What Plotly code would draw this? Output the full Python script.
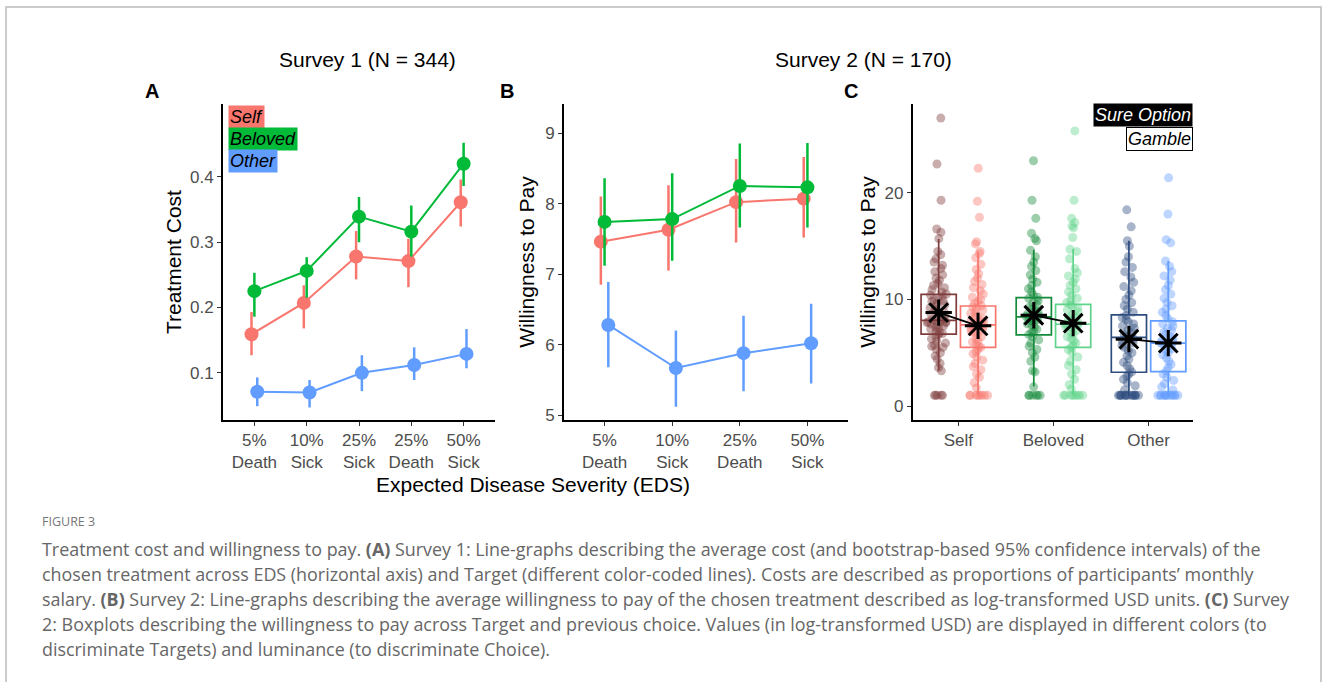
import plotly.graph_objects as go

W, H = 1330, 682
FONT = "Liberation Sans, Arial, sans-serif"
CAPFONT = "Open Sans, sans-serif"

# ---------------- Data ----------------
targets = ["Self", "Beloved", "Other"]
target_colors = ["#F8766D", "#00BA38", "#619CFF"]

# Panel A (Survey 1): treatment cost
eds_a = ["5%<br>Death", "10%<br>Sick", "25%<br>Sick", "25%<br>Death", "50%<br>Sick"]
cost_mean = {
    "Self":    [0.159, 0.207, 0.278, 0.271, 0.361],
    "Beloved": [0.225, 0.256, 0.339, 0.316, 0.420],
    "Other":   [0.071, 0.070, 0.100, 0.112, 0.129],
}
cost_hi = {
    "Self":    [0.193, 0.234, 0.317, 0.305, 0.396],
    "Beloved": [0.253, 0.277, 0.369, 0.356, 0.452],
    "Other":   [0.093, 0.089, 0.127, 0.139, 0.167],
}
cost_lo = {
    "Self":    [0.127, 0.168, 0.243, 0.231, 0.324],
    "Beloved": [0.186, 0.215, 0.300, 0.278, 0.386],
    "Other":   [0.049, 0.047, 0.072, 0.089, 0.107],
}

# Panel B (Survey 2): willingness to pay
eds_b = ["5%<br>Death", "10%<br>Sick", "25%<br>Death", "50%<br>Sick"]
wtp_mean = {
    "Self":    [7.46, 7.63, 8.02, 8.07],
    "Beloved": [7.74, 7.78, 8.25, 8.23],
    "Other":   [6.28, 5.67, 5.88, 6.02],
}
wtp_hi = {
    "Self":    [8.10, 8.26, 8.63, 8.66],
    "Beloved": [8.36, 8.43, 8.85, 8.86],
    "Other":   [6.89, 6.20, 6.41, 6.58],
}
wtp_lo = {
    "Self":    [6.85, 7.05, 7.45, 7.52],
    "Beloved": [7.12, 7.19, 7.66, 7.66],
    "Other":   [5.68, 5.12, 5.34, 5.45],
}

# Panel C: boxplots by target and choice
choices = ["Sure Option", "Gamble"]
box_colors = {
    ("Self", "Sure Option"): "#7E3C3C", ("Self", "Gamble"): "#F8766D",
    ("Beloved", "Sure Option"): "#138B3A", ("Beloved", "Gamble"): "#5FD38A",
    ("Other", "Sure Option"): "#2E4C7E", ("Other", "Gamble"): "#619CFF",
}
box_q1 = {("Self", "Sure Option"): 6.74, ("Self", "Gamble"): 5.50,
          ("Beloved", "Sure Option"): 6.68, ("Beloved", "Gamble"): 5.50,
          ("Other", "Sure Option"): 3.17, ("Other", "Gamble"): 3.23}
box_med = {("Self", "Sure Option"): 8.04, ("Self", "Gamble"): 7.61,
           ("Beloved", "Sure Option"): 8.36, ("Beloved", "Gamble"): 7.67,
           ("Other", "Sure Option"): 6.43, ("Other", "Gamble"): 5.90}
box_q3 = {("Self", "Sure Option"): 10.47, ("Self", "Gamble"): 9.38,
          ("Beloved", "Sure Option"): 10.16, ("Beloved", "Gamble"): 9.54,
          ("Other", "Sure Option"): 8.54, ("Other", "Gamble"): 7.98}
box_lo = {("Self", "Sure Option"): 3.33, ("Self", "Gamble"): 1.0,
          ("Beloved", "Sure Option"): 1.83, ("Beloved", "Gamble"): 1.0,
          ("Other", "Sure Option"): 1.0, ("Other", "Gamble"): 1.0}
box_hi = {("Self", "Sure Option"): 15.66, ("Self", "Gamble"): 14.5,
          ("Beloved", "Sure Option"): 14.66, ("Beloved", "Gamble"): 14.72,
          ("Other", "Sure Option"): 15.5, ("Other", "Gamble"): 13.6}
box_mean = {("Self", "Sure Option"): 8.76, ("Self", "Gamble"): 7.52,
            ("Beloved", "Sure Option"): 8.51, ("Beloved", "Gamble"): 7.77,
            ("Other", "Sure Option"): 6.27, ("Other", "Gamble"): 5.90}

wtp_self_sure = [27.0, 22.7, 19.3, 16.6, 16.3,
                 15.7, 14.5, 14.2, 13.8, 13.5, 13.2, 12.9, 12.6, 12.3, 12.0, 11.8, 11.5, 11.3, 11.1, 10.9, 10.7, 10.5,
                 10.4, 10.3, 10.1, 10.0, 9.9, 9.8, 9.6, 9.5, 9.3, 9.2, 9.0, 8.9, 8.8, 8.6, 8.5, 8.3, 8.2, 8.1, 8.0, 8.0,
                 7.9, 7.9, 7.8, 7.8, 7.7, 7.6, 7.5, 7.4, 7.3, 7.2, 7.0, 6.9, 6.8, 6.7,
                 6.5, 6.3, 6.1, 5.9, 5.7, 5.6, 5.5, 5.3, 5.0, 4.7, 4.4, 4.0, 3.6, 3.3,
                 1.0, 1.0, 1.0, 1.0, 1.0]
wtp_self_gamble = [22.3, 19.2, 17.7,
                   15.4, 15.2, 14.5, 14.3, 13.9, 13.3, 12.8, 12.4, 12.0, 11.7, 11.4, 11.1, 10.8, 10.5, 10.2, 10.0, 9.8, 9.6, 9.4,
                   9.3, 9.2, 9.0, 8.8, 8.7, 8.5, 8.4, 8.2, 8.0, 7.9, 7.8, 7.7, 7.6, 7.6, 7.5, 7.4, 7.3, 7.2, 7.0, 6.9,
                   6.7, 6.5, 6.3, 6.1, 6.0, 5.8, 5.6, 5.5,
                   5.3, 5.1, 4.9, 4.6, 4.3, 4.0, 3.7, 3.4, 3.0, 2.7, 2.2, 1.7,
                   1.0, 1.0, 1.0, 1.0, 1.0, 1.0, 1.0, 1.0]
wtp_beloved_sure = [23.0, 19.3, 17.6, 16.2,
                    15.7, 15.5, 14.6, 14.0, 13.5, 13.1, 12.7, 12.3, 11.9, 11.6, 11.3, 11.0, 10.7, 10.4, 10.2,
                    10.1, 9.9, 9.7, 9.5, 9.3, 9.1, 9.0, 8.8, 8.6, 8.5, 8.4, 8.3, 8.2, 8.1, 8.0, 7.9, 7.7, 7.6,
                    7.4, 7.2, 7.0, 6.9, 6.7,
                    6.5, 6.2, 5.9, 5.6, 5.3, 5.0, 4.6, 4.2, 3.3, 3.2, 1.8,
                    1.0, 1.0, 1.0, 1.0, 1.0, 1.0]
wtp_beloved_gamble = [25.8, 19.3, 17.6, 17.2, 16.9, 16.7, 15.8,
                      14.7, 14.5, 13.8, 12.9, 12.5, 12.2, 11.9, 11.6, 11.3, 11.0, 10.7, 10.4, 10.1, 9.9, 9.7,
                      9.5, 9.4, 9.2, 9.0, 8.8, 8.6, 8.4, 8.2, 8.0, 7.9, 7.8, 7.7, 7.6, 7.5, 7.4, 7.3, 7.1, 6.9,
                      6.7, 6.5, 6.3, 6.1, 5.9, 5.7, 5.5,
                      5.3, 5.0, 4.6, 4.2, 3.8, 3.4, 3.0, 2.5, 2.0, 1.6,
                      1.0, 1.0, 1.0, 1.0, 1.0, 1.0, 1.0, 1.0]
wtp_other_sure = [18.4, 16.8,
                  15.5, 15.0, 14.0, 13.5, 13.0, 12.6, 12.1, 11.6, 11.2, 10.8, 10.4, 10.0, 9.7, 9.4, 9.1, 8.8,
                  8.5, 8.3, 8.1, 7.9, 7.7, 7.5, 7.3, 7.1, 6.9, 6.7, 6.5, 6.4, 6.3, 6.1, 5.9, 5.7, 5.5, 5.2,
                  5.0, 4.7, 4.4, 4.1, 3.8, 3.5, 3.2,
                  3.0, 2.8, 2.5, 2.2, 1.9, 1.5,
                  1.0, 1.0, 1.0, 1.0, 1.0, 1.0, 1.0, 1.0, 1.0, 1.0, 1.0, 1.0, 1.0, 1.0]
wtp_other_gamble = [21.4, 18.0, 15.6, 15.3,
                    13.6, 13.1, 12.6, 12.2, 11.8, 11.3, 10.9, 10.5, 10.1, 9.7, 9.4, 9.1, 8.8, 8.5, 8.2,
                    7.9, 7.7, 7.5, 7.3, 7.1, 6.9, 6.7, 6.5, 6.3, 6.1, 6.0, 5.9, 5.8, 5.6, 5.4, 5.2, 5.0,
                    4.8, 4.5, 4.2, 3.9, 3.6, 3.3,
                    3.0, 2.7, 2.4, 2.1, 1.8, 1.5,
                    1.0, 1.0, 1.0, 1.0, 1.0, 1.0, 1.0, 1.0, 1.0, 1.0, 1.0, 1.0]
box_values = {
    ("Self", "Sure Option"): wtp_self_sure, ("Self", "Gamble"): wtp_self_gamble,
    ("Beloved", "Sure Option"): wtp_beloved_sure, ("Beloved", "Gamble"): wtp_beloved_gamble,
    ("Other", "Sure Option"): wtp_other_sure, ("Other", "Gamble"): wtp_other_gamble,
}

# ---------------- Helpers ----------------
def px_x(a, b):
    return [a / W, b / W]

def px_y(top, bottom):
    return [1 - bottom / H, 1 - top / H]

def rgba(hexc, a):
    h = hexc.lstrip("#")
    return "rgba(%d,%d,%d,%.2f)" % (int(h[0:2], 16), int(h[2:4], 16), int(h[4:6], 16), a)

fig = go.Figure()

dodge = {"Self": -0.055, "Beloved": 0.0, "Other": 0.055}

# Panel A
for t, c in zip(targets, target_colors):
    xs = [i + dodge[t] for i in range(len(eds_a))]
    m = cost_mean[t]
    fig.add_trace(go.Scatter(
        x=xs, y=m, mode="lines+markers", xaxis="x", yaxis="y",
        line=dict(color=c, width=2), marker=dict(color=c, size=14),
        error_y=dict(type="data", symmetric=False,
                     array=[h - v for h, v in zip(cost_hi[t], m)],
                     arrayminus=[v - l for l, v in zip(cost_lo[t], m)],
                     color=c, thickness=2.5, width=0),
        showlegend=False, name=t))

# Panel B
for t, c in zip(targets, target_colors):
    xs = [i + dodge[t] for i in range(len(eds_b))]
    m = wtp_mean[t]
    fig.add_trace(go.Scatter(
        x=xs, y=m, mode="lines+markers", xaxis="x2", yaxis="y2",
        line=dict(color=c, width=2), marker=dict(color=c, size=14),
        error_y=dict(type="data", symmetric=False,
                     array=[h - v for h, v in zip(wtp_hi[t], m)],
                     arrayminus=[v - l for l, v in zip(wtp_lo[t], m)],
                     color=c, thickness=2.5, width=0),
        showlegend=False, name=t))

# Panel C
choice_off = {"Sure Option": -0.207, "Gamble": 0.207}
for i, t in enumerate(targets):
    for ch in choices:
        k = (t, ch)
        pos = i + choice_off[ch]
        col = box_colors[k]
        vals = box_values[k]
        # jittered points
        fig.add_trace(go.Box(
            x=[pos] * len(vals), y=vals, xaxis="x3", yaxis="y3",
            boxpoints="all", jitter=1, pointpos=0, width=0.26,
            fillcolor="rgba(0,0,0,0)", line=dict(color="rgba(0,0,0,0)", width=0),
            marker=dict(color=rgba(col, 0.42), size=9, line=dict(width=0)),
            showlegend=False, hoverinfo="y"))
        # box from summary stats
        fig.add_trace(go.Box(
            x=[pos], q1=[box_q1[k]], median=[box_med[k]], q3=[box_q3[k]],
            lowerfence=[box_lo[k]], upperfence=[box_hi[k]],
            xaxis="x3", yaxis="y3", boxpoints=False, width=0.37,
            whiskerwidth=0, fillcolor="rgba(0,0,0,0)",
            line=dict(color=col, width=1.7), showlegend=False))
    fig.add_trace(go.Scatter(
        x=[i + choice_off[ch] for ch in choices],
        y=[box_mean[(t, ch)] for ch in choices],
        mode="lines+markers", xaxis="x3", yaxis="y3",
        line=dict(color="black", width=1.8),
        marker=dict(symbol="asterisk-open", size=22, color="black",
                    line=dict(color="black", width=3)),
        showlegend=False))

axis_common = dict(showline=True, linecolor="black", linewidth=1.8,
                   ticks="outside", ticklen=4, tickwidth=1.2, tickcolor="#333333",
                   tickfont=dict(size=17, color="#4D4D4D", family=FONT),
                   showgrid=False, zeroline=False)
title_font = dict(size=21, color="black", family=FONT)

fig.update_layout(
    width=W, height=H, margin=dict(l=0, r=0, t=0, b=0),
    paper_bgcolor="white", plot_bgcolor="white", showlegend=False,
    font=dict(family=FONT),
    xaxis=dict(axis_common, domain=px_x(223, 495), range=[-0.6, 4.6],
               tickmode="array", tickvals=list(range(len(eds_a))), ticktext=eds_a,
               anchor="y"),
    yaxis=dict(axis_common, domain=px_y(105, 423), range=[0.028, 0.511],
               tickvals=[0.1, 0.2, 0.3, 0.4], anchor="x",
               title=dict(text="Treatment Cost", font=title_font, standoff=3)),
    xaxis2=dict(axis_common, domain=px_x(564, 848), range=[-0.6, 3.6],
                tickmode="array", tickvals=list(range(len(eds_b))), ticktext=eds_b,
                anchor="y2"),
    yaxis2=dict(axis_common, domain=px_y(105, 423), range=[4.934, 9.408],
                tickvals=[5, 6, 7, 8, 9], anchor="x2",
                title=dict(text="Willingness to Pay", font=title_font, standoff=5)),
    xaxis3=dict(axis_common, domain=px_x(912.7, 1193.3), range=[-0.48, 2.47],
                tickmode="array", tickvals=list(range(len(targets))), ticktext=targets,
                anchor="y3"),
    yaxis3=dict(axis_common, domain=px_y(105, 423), range=[-1.3, 28.3],
                tickvals=[0, 10, 20], anchor="x3",
                title=dict(text="Willingness to Pay", font=title_font, standoff=3)),
)

def text_ann(text, x, y, size, color="black", family=FONT, xanchor="center", **kw):
    return dict(text=text, x=x / W, y=1 - y / H, xref="paper", yref="paper",
                xanchor=xanchor, yanchor="middle", showarrow=False,
                font=dict(size=size, color=color, family=family), **kw)

ann = []
# Survey titles
ann.append(text_ann("Survey 1 (N = 344)", 367, 60, 21))
ann.append(text_ann("Survey 2 (N = 170)", 863, 60, 21))
# Panel letters
for letter, xc in [("A", 152), ("B", 507), ("C", 851)]:
    ann.append(text_ann("<b>%s</b>" % letter, xc, 92, 20))
# Shared x title
ann.append(text_ann("Expected Disease Severity (EDS)", 533, 488, 21))
# Panel A target legend
for j, (t, c) in enumerate(zip(targets, target_colors)):
    ann.append(dict(text="<i>%s</i>" % t, x=228 / W, y=1 - (106 + 22 * j) / H,
                    xref="paper", yref="paper", xanchor="left", yanchor="top",
                    showarrow=False, bgcolor=c, borderpad=1,
                    font=dict(size=18, color="black", family=FONT)))
# Panel C choice legend
ann.append(dict(text="<i>Sure Option</i>", x=1193 / W, y=1 - 104 / H, xref="paper", yref="paper",
                xanchor="right", yanchor="top", showarrow=False, bgcolor="black", borderpad=1,
                font=dict(size=18, color="white", family=FONT)))
ann.append(dict(text="<i>Gamble</i>", x=1193 / W, y=1 - 128 / H, xref="paper", yref="paper",
                xanchor="right", yanchor="top", showarrow=False, bgcolor="white",
                bordercolor="black", borderwidth=1, borderpad=1,
                font=dict(size=18, color="black", family=FONT)))

# Caption
ann.append(text_ann("FIGURE 3", 40, 525, 12.5, color="#777777", family=CAPFONT, xanchor="left"))
caption = [
    "Treatment cost and willingness to pay. <b>(A)</b> Survey 1: Line-graphs describing the average cost (and bootstrap-based 95% confidence intervals) of the",
    "chosen treatment across EDS (horizontal axis) and Target (different color-coded lines). Costs are described as proportions of participants\u2019 monthly",
    "salary. <b>(B)</b> Survey 2: Line-graphs describing the average willingness to pay of the chosen treatment described as log-transformed USD units. <b>(C)</b> Survey",
    "2: Boxplots describing the willingness to pay across Target and previous choice. Values (in log-transformed USD) are displayed in different colors (to",
    "discriminate Targets) and luminance (to discriminate Choice).",
]
for j, line in enumerate(caption):
    ann.append(text_ann(line, 40, 553 + 25.3 * j, 17.9, color="#666666", family=CAPFONT, xanchor="left"))

fig.update_layout(annotations=ann)

# Outer frame
fig.add_shape(type="rect", xref="paper", yref="paper",
              x0=6 / W, x1=1321 / W, y0=-0.05, y1=1 - 7 / H,
              line=dict(color="#BBBBBB", width=1.5), fillcolor="rgba(0,0,0,0)", layer="below")

fig.write_html("out.html", config={"displayModeBar": False},
               post_script="document.body.style.margin='0px';")
